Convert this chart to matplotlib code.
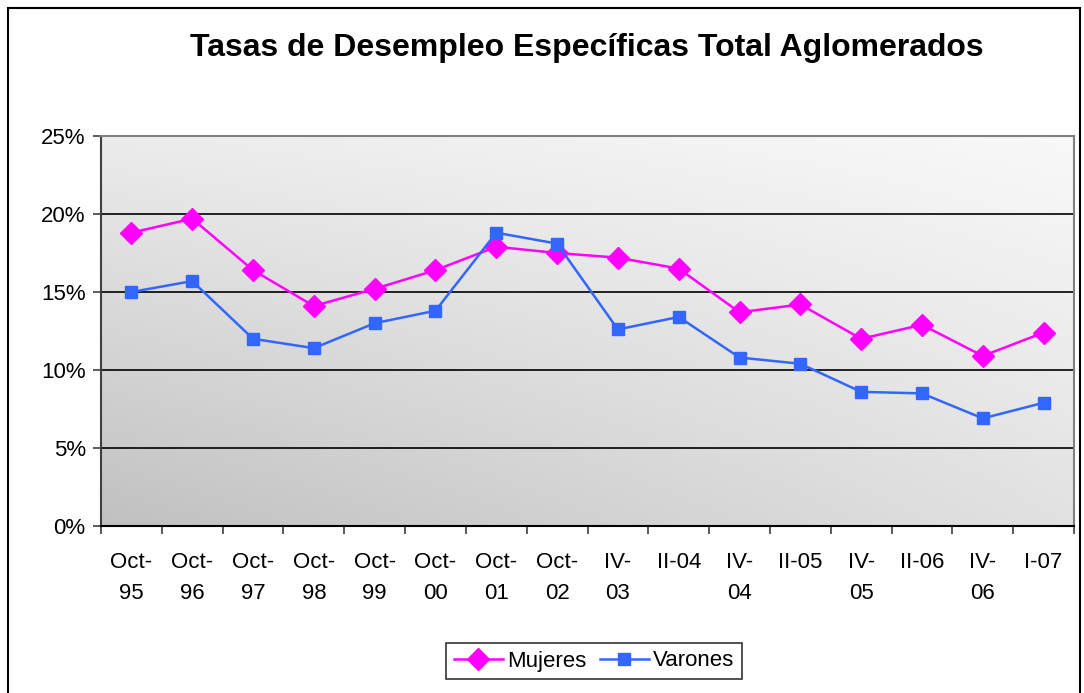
import numpy as np
import matplotlib
matplotlib.use("Agg")
import matplotlib.pyplot as plt
from matplotlib.patches import Rectangle

plt.rcParams['font.family'] = ['Liberation Sans', 'DejaVu Sans']

categories = ["Oct-\n95", "Oct-\n96", "Oct-\n97", "Oct-\n98", "Oct-\n99", "Oct-\n00",
              "Oct-\n01", "Oct-\n02", "IV-\n03", "II-04", "IV-\n04", "II-05",
              "IV-\n05", "II-06", "IV-\n06", "I-07"]
mujeres = [18.8, 19.7, 16.4, 14.1, 15.2, 16.4, 17.9, 17.5, 17.2, 16.5, 13.7, 14.2,
           12.0, 12.9, 10.9, 12.4]
varones = [15.0, 15.7, 12.0, 11.4, 13.0, 13.8, 18.8, 18.1, 12.6, 13.4, 10.8, 10.4,
           8.6, 8.5, 6.9, 7.9]
yticks = [0, 5, 10, 15, 20, 25]
ytick_labels = ["0%", "5%", "10%", "15%", "20%", "25%"]

W, H = 1084, 693
fig = plt.figure(figsize=(W / 100, H / 100), dpi=100)
fig.patch.set_facecolor("white")

# outer frame
fig.add_artist(Rectangle((8 / W, -0.05), (1080 - 8) / W, 1.05 - 8 / H,
                         transform=fig.transFigure, fill=False,
                         edgecolor="black", linewidth=1.5))

left, right, top, bottom = 101, 1074, 136, 526
ax = fig.add_axes([left / W, 1 - bottom / H, (right - left) / W, (bottom - top) / H])

n = len(categories)
x = np.arange(n)
ax.set_xlim(-0.5, n - 0.5)
ax.set_ylim(0, 25)

# gradient background
gx = np.linspace(0, 1, 200)
gy = np.linspace(0, 1, 200)
GX, GY = np.meshgrid(gx, gy)
c00, c01, c10, c11 = 0.755, 0.925, 0.885, 0.975
G = (c00 * (1 - GX) * (1 - GY) + c01 * (1 - GX) * GY + c10 * GX * (1 - GY) + c11 * GX * GY)
ax.imshow(np.dstack([G, G, G]), extent=[0, 1, 0, 1], transform=ax.transAxes,
          origin="lower", aspect="auto", zorder=0, interpolation="bilinear")

for yv in yticks[1:-1]:
    ax.axhline(yv, color="black", linewidth=1.2, zorder=1)

ax.plot(x, mujeres, color="#FF00FF", linewidth=1.8, marker="D", markersize=11.5,
        markeredgecolor="#FF00FF", label="Mujeres", zorder=3)
ax.plot(x, varones, color="#3366FF", linewidth=1.8, marker="s", markersize=8,
        markeredgecolor="#3366FF", label="Varones", zorder=3)

ax.set_yticks(yticks)
ax.set_yticklabels(ytick_labels, fontsize=16)
ax.set_xticks(x)
ax.set_xticklabels(categories, fontsize=16, linespacing=1.6)
ax.set_xticks(np.arange(-0.5, n, 1), minor=True)
ax.tick_params(axis="x", which="major", length=0, pad=19)
ax.tick_params(axis="x", which="minor", length=6, width=1.2, color="#404040", direction="out")
ax.tick_params(axis="y", length=6, width=1.2, color="#404040", direction="out", pad=5)

for s in ["top", "right"]:
    ax.spines[s].set_color("#808080")
    ax.spines[s].set_linewidth(1.5)
ax.spines["left"].set_color("#404040")
ax.spines["left"].set_linewidth(1.5)
ax.spines["bottom"].set_color("black")
ax.spines["bottom"].set_linewidth(1.5)

fig.text(587 / W, 1 - 48 / H, "Tasas de Desempleo Específicas Total Aglomerados",
         ha="center", va="center", fontsize=23, fontweight="bold")

leg = fig.legend(loc="center", bbox_to_anchor=(594 / W, 1 - 661 / H), ncol=2,
                 fontsize=16, frameon=True, fancybox=False, edgecolor="black",
                 handlelength=2.2, handletextpad=0.2, columnspacing=0.6,
                 borderpad=0.35)
leg.get_frame().set_linewidth(1.2)

fig.savefig("out.png", dpi=100)
